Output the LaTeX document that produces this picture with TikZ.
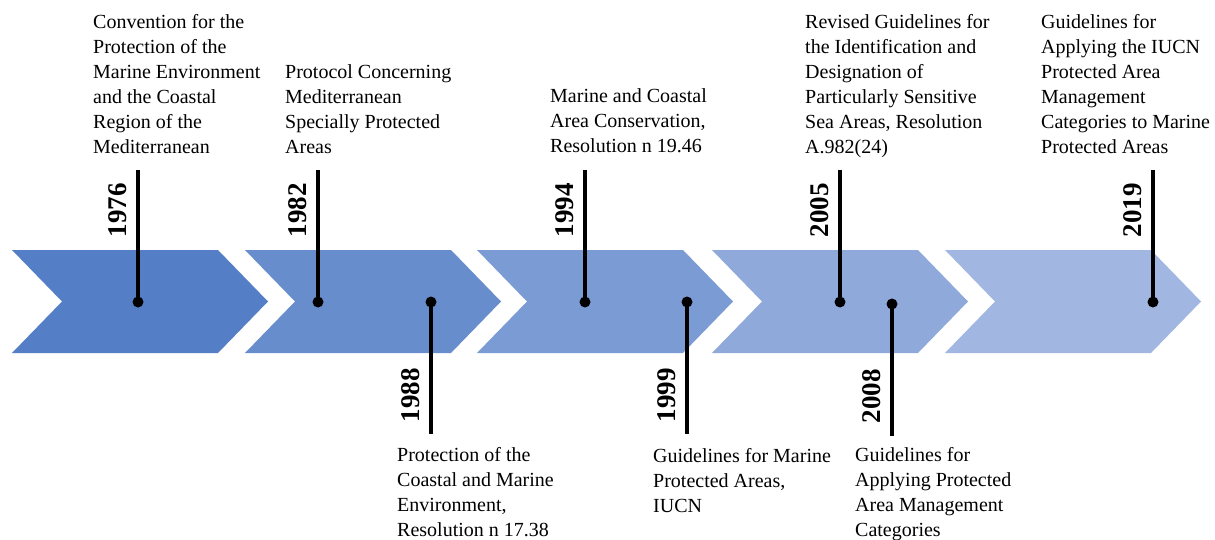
\documentclass[tikz,border=0pt]{standalone}
\usepackage{fontspec}
\setmainfont{Liberation Serif}
\definecolor{cA}{RGB}{84,127,199}
\definecolor{cB}{RGB}{104,141,205}
\definecolor{cC}{RGB}{123,155,212}
\definecolor{cD}{RGB}{142,169,218}
\definecolor{cE}{RGB}{161,183,225}
\newcommand\chevshape[2]{\fill[#2] (#1,250) -- ++(206,0) -- ++(50,51.5) -- ++(-50,51.5) -- ++(-206,0) -- ++(50,-51.5) -- cycle;}
\newcommand\topstrut{\rule{0pt}{17.5pt}}
\begin{document}
\begin{tikzpicture}[x=1pt,y=-1pt,
  dot/.style={circle,fill=black,inner sep=0pt,minimum size=11pt},
  conn/.style={line width=3.5pt,black},
  yearlbl/.style={rotate=90,anchor=south,inner sep=0pt,font=\fontsize{27}{30}\selectfont\bfseries},
  desc/.style={anchor=north west,inner sep=0pt,align=left,font=\fontsize{20}{25}\selectfont}]
\useasboundingbox (0,0) rectangle (1215,540);
\fill[white] (0,0) rectangle (1215,540);
% chevrons
\chevshape{12}{cA}
\chevshape{245}{cB}
\chevshape{477}{cC}
\chevshape{712}{cD}
\chevshape{945}{cE}
% dots
\node[dot] (d1976) at (138,302) {};
\node[dot] (d1982) at (318,302) {};
\node[dot] (d1988) at (431,302) {};
\node[dot] (d1994) at (585,302) {};
\node[dot] (d1999) at (687,302) {};
\node[dot] (d2005) at (840,302) {};
\node[dot] (d2008) at (892,304) {};
\node[dot] (d2019) at (1153,302) {};
% free ends
\coordinate (e1976) at (138,170);
\coordinate (e1982) at (318,170);
\coordinate (e1988) at (431,434);
\coordinate (e1994) at (585,170);
\coordinate (e1999) at (687,434);
\coordinate (e2005) at (840,170);
\coordinate (e2008) at (892,436);
\coordinate (e2019) at (1153,170);
\foreach \y in {1976,1982,1988,1994,1999,2005,2008,2019}{
  \draw[conn] (d\y.center) -- (e\y);
}
% years
\node[yearlbl] (y1976) at (127,210) {1976};
\node[yearlbl] (y1982) at (307,210) {1982};
\node[yearlbl] (y1988) at (420,395) {1988};
\node[yearlbl] (y1994) at (574,210) {1994};
\node[yearlbl] (y1999) at (676,395) {1999};
\node[yearlbl] (y2005) at (829,210) {2005};
\node[yearlbl] (y2008) at (881,396) {2008};
\node[yearlbl] (y2019) at (1142,210) {2019};
% descriptions (first baseline = top + 17.5)
\node[desc] (t1976) at (93,10.5) {\topstrut Convention for the\\Protection of the\\Marine Environment\\and the Coastal\\Region of the\\Mediterranean};
\node[desc] (t1982) at (285,60.5) {\topstrut Protocol Concerning\\Mediterranean\\Specially Protected\\Areas};
\node[desc] (t1994) at (550,85) {\topstrut Marine and Coastal\\Area Conservation,\\Resolution n 19.46};
\node[desc] (t2005) at (805,10.5) {\topstrut Revised Guidelines for\\the Identification and\\Designation of\\Particularly Sensitive\\Sea Areas, Resolution\\A.982(24)};
\node[desc] (t2019) at (1041,10.5) {\topstrut Guidelines for\\Applying the IUCN\\Protected Area\\Management\\Categories to Marine\\Protected Areas};
\node[desc] (t1988) at (397,444) {\topstrut Protection of the\\Coastal and Marine\\Environment,\\Resolution n 17.38};
\node[desc] (t1999) at (653,444.5) {\topstrut Guidelines for Marine\\Protected Areas,\\IUCN};
\node[desc] (t2008) at (855,443.5) {\topstrut Guidelines for\\Applying Protected\\Area Management\\Categories};
\end{tikzpicture}
\end{document}
